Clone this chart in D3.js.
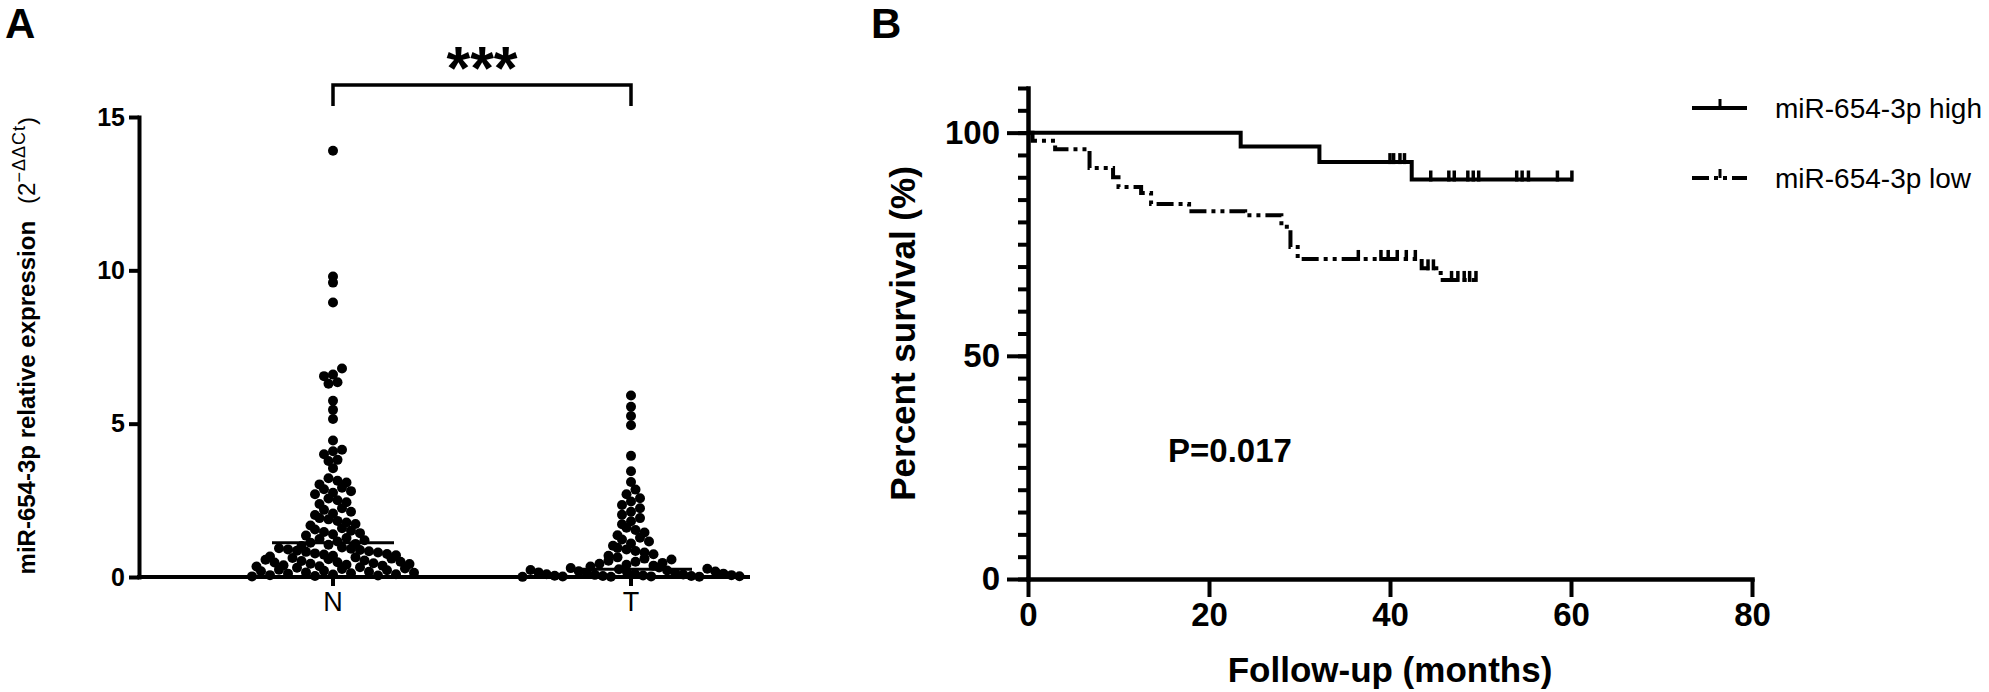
<!DOCTYPE html>
<html><head><meta charset="utf-8">
<script src="https://cdn.jsdelivr.net/npm/d3@7"></script>
<style>
html,body{margin:0;padding:0;background:#fff;}
svg{display:block;font-family:"Liberation Sans",Arial,Helvetica,sans-serif;}
</style></head><body>
<svg id="chart" width="1989" height="692"></svg>
<script>
// ---------- Panel A data ----------
const groups = ["N", "T"];
const valuesN = [
  0.02, 0.03, 0.05, 0.06, 0.08, 0.09, 0.11, 0.12, 0.14, 0.15, 0.17, 0.19, 0.2, 0.22, 0.24, 0.26, 0.28, 0.3, 0.32,
  0.34, 0.35, 0.37, 0.38, 0.4, 0.42, 0.43, 0.45, 0.47, 0.48, 0.5, 0.52, 0.54, 0.56, 0.58, 0.6, 0.62, 0.64,
  0.67, 0.69, 0.71, 0.73, 0.75, 0.77, 0.8, 0.82, 0.84, 0.86, 0.88, 0.9, 0.92, 0.94, 0.96,
  1.01, 1.05, 1.08, 1.12, 1.16, 1.2, 1.24, 1.27,
  1.35, 1.39, 1.43, 1.47, 1.51, 1.55, 1.59,
  1.68, 1.73, 1.78, 1.83, 1.88, 1.92,
  2.02, 2.07, 2.13, 2.19, 2.24,
  2.38, 2.44, 2.5, 2.56,
  2.7, 2.75, 2.8, 2.86, 2.91,
  3.02, 3.08, 3.14, 3.22, 3.55, 3.78, 3.82, 4.0, 4.1, 4.15, 4.45, 5.15, 5.45, 5.75,
  6.3, 6.35, 6.55, 6.6, 6.8, 8.95, 9.6, 9.8, 13.9];
const valuesT = [
  0.005, 0.01, 0.012, 0.015, 0.02, 0.025, 0.03, 0.035, 0.04, 0.05, 0.06, 0.07, 0.08, 0.09, 0.1, 0.11, 0.12, 0.13, 0.15, 0.16, 0.18, 0.19, 0.21, 0.23, 0.25, 0.27, 0.29, 0.31,
  0.34, 0.37, 0.4, 0.43, 0.46, 0.5, 0.53, 0.57, 0.6, 0.64,
  0.69, 0.74, 0.8, 0.85, 0.9, 0.95,
  1.02, 1.09, 1.16, 1.22, 1.28,
  1.36, 1.45, 1.53, 1.61,
  1.72, 1.82, 1.92,
  2.03, 2.13, 2.24,
  2.35, 2.46, 2.57,
  2.7, 2.85,
  3.1, 3.45, 3.95, 4.95, 5.25, 5.55, 5.92];
const mediansA = [1.12, 0.25];
const yTicksA = [0, 5, 10, 15];
const sigLabel = "***";

// ---------- Panel B data ----------
const seriesNames = ["miR-654-3p high", "miR-654-3p low"];
const survMajorTicks = [0, 50, 100];
const survMinorTicks = d3.range(0, 111, 5);
const monthTicks = [0, 20, 40, 60, 80];
const highTimes = [0, 23.5, 32.2, 42.4];
const highSurv = [100, 96.9, 93.4, 89.5];
const highEnd = 60.2;
const highCensor = [40.0, 40.4, 41.1, 41.6, 44.5, 46.5, 47.1, 48.6, 49.2, 49.8, 54.0, 54.6, 55.3, 58.5, 60.1];
const lowTimes = [0, 0.5, 3.0, 6.8, 9.4, 10.0, 12.5, 13.6, 17.8, 24.0, 28.0, 29.0, 29.8, 43.5, 45.6];
const lowSurv = [100, 98.2, 96.3, 92.1, 90.0, 87.8, 86.5, 84.0, 82.4, 81.5, 78.9, 74.4, 71.7, 69.6, 67.0];
const lowEnd = 49.5;
const lowCensor = [36.5, 39.0, 39.8, 40.8, 41.8, 42.8, 44.2, 44.8, 46.8, 47.5, 48.2, 48.8, 49.5];
const pText = "P=0.017";

const svg = d3.select("#chart");
const AX = 4;
const FF = '"Liberation Sans", Arial, sans-serif';

// ================= Panel A =================
const gA = svg.append("g");
const xA = d3.scalePoint().domain(groups).range([333, 631]);
const yA = d3.scaleLinear().domain([0, 15]).range([577, 117]);
const axisAx = 139, axisAend = 748;

gA.append("text").attr("x", 5).attr("y", 38).attr("font-size", 42).attr("font-weight", "bold").text("A");

const gyA = gA.append("g").attr("transform", `translate(${axisAx},0)`)
  .call(d3.axisLeft(yA).tickValues(yTicksA).tickSize(10).tickPadding(4).tickSizeOuter(0));
gyA.select(".domain").attr("stroke", "#000").attr("stroke-width", AX).attr("stroke-linecap", "square");
gyA.selectAll(".tick line").attr("stroke", "#000").attr("stroke-width", AX);
gyA.selectAll(".tick text").attr("font-size", 25).attr("font-weight", "bold").attr("fill", "#000").attr("font-family", FF);

gA.append("line").attr("x1", axisAx).attr("x2", axisAend).attr("y1", yA(0)).attr("y2", yA(0))
  .attr("stroke", "#000").attr("stroke-width", AX).attr("stroke-linecap", "square");
groups.forEach(g => {
  gA.append("line").attr("x1", xA(g)).attr("x2", xA(g)).attr("y1", yA(0)).attr("y2", yA(0) + 9)
    .attr("stroke", "#000").attr("stroke-width", AX);
  gA.append("text").attr("x", xA(g)).attr("y", 611).attr("text-anchor", "middle")
    .attr("font-size", 27).text(g);
});

// y label
const yl = gA.append("text").attr("transform", "translate(35,117) rotate(-90)").attr("text-anchor", "end");
yl.append("tspan").attr("font-size", 24).attr("font-weight", "bold").text("miR-654-3p relative expression");
yl.append("tspan").attr("font-size", 24).attr("dx", 17).text("(2");
yl.append("tspan").attr("font-size", 18).attr("dy", -10).attr("letter-spacing", 1).text("\u2212\u0394\u0394Ct");
yl.append("tspan").attr("font-size", 24).attr("dy", 10).text(")");

// column-scatter layout: points binned by height, spread sideways on a fixed grid
function gcd(a, b) { return b ? gcd(b, a % b) : a; }
function columnScatter(values, yScale, binH, spacing, maxW) {
  const y0 = yScale(0);
  const pts = values.map(v => ({ v, y: yScale(v) }));
  const bins = d3.group(pts, p => Math.floor((y0 - p.y) / binH));
  for (const [, arr] of bins) {
    arr.sort((a, b) => a.v - b.v);
    const n = arr.length;
    const s = Math.min(spacing, maxW / n);
    let st = Math.max(1, Math.round(n * 0.38));
    while (gcd(st, n) !== 1) st++;
    arr.forEach((p, i) => {
      const slot = n > 2 ? (i * st) % n : i;
      p.x = (slot - (n - 1) / 2) * s;
    });
  }
  return pts;
}
const R = 5;
[valuesN, valuesT].forEach((vals, i) => {
  const pts = columnScatter(vals, yA, 10, 9, i ? 225 : 240);
  gA.append("g").selectAll("circle").data(pts).join("circle")
    .attr("cx", d => xA(groups[i]) + d.x).attr("cy", d => d.y).attr("r", R).attr("fill", "#000");
  gA.append("line").attr("x1", xA(groups[i]) - 61).attr("x2", xA(groups[i]) + 61)
    .attr("y1", yA(mediansA[i])).attr("y2", yA(mediansA[i])).attr("stroke", "#000").attr("stroke-width", 3);
});

// significance bracket
gA.append("path").attr("d", `M${xA("N")},106V85H${xA("T")}V106`).attr("fill", "none")
  .attr("stroke", "#000").attr("stroke-width", 3.5);
gA.append("text").attr("x", (xA("N") + xA("T")) / 2).attr("y", 89).attr("text-anchor", "middle")
  .attr("font-size", 61).attr("font-weight", "bold").text(sigLabel);

// ================= Panel B =================
const gB = svg.append("g");
const xB = d3.scaleLinear().domain([0, 80]).range([1028, 1752]);
const yB = d3.scaleLinear().domain([0, 110]).range([579, 88]);

gB.append("text").attr("x", 871).attr("y", 38).attr("font-size", 42).attr("font-weight", "bold").text("B");

const gyMinor = gB.append("g").attr("transform", `translate(${xB(0)},0)`)
  .call(d3.axisLeft(yB).tickValues(survMinorTicks).tickSize(10).tickFormat("").tickSizeOuter(0));
gyMinor.select(".domain").attr("stroke", "#000").attr("stroke-width", AX + 0.5).attr("stroke-linecap", "square");
gyMinor.selectAll(".tick line").attr("stroke", "#000").attr("stroke-width", AX);
const gyMajor = gB.append("g").attr("transform", `translate(${xB(0)},0)`)
  .call(d3.axisLeft(yB).tickValues(survMajorTicks).tickSize(21).tickPadding(7).tickSizeOuter(0));
gyMajor.select(".domain").remove();
gyMajor.selectAll(".tick line").attr("stroke", "#000").attr("stroke-width", AX);
gyMajor.selectAll(".tick text").attr("font-size", 33).attr("font-weight", "bold").attr("fill", "#000").attr("font-family", FF);

const gx = gB.append("g").attr("transform", `translate(0,${yB(0)})`)
  .call(d3.axisBottom(xB).tickValues(monthTicks).tickSize(18).tickPadding(6).tickSizeOuter(0));
gx.select(".domain").attr("stroke", "#000").attr("stroke-width", AX + 0.5).attr("stroke-linecap", "square");
gx.selectAll(".tick line").attr("stroke", "#000").attr("stroke-width", AX);
gx.selectAll(".tick text").attr("font-size", 33).attr("font-weight", "bold").attr("fill", "#000").attr("font-family", FF);

gB.append("text").attr("x", (xB(0) + xB(80)) / 2).attr("y", 682).attr("text-anchor", "middle")
  .attr("font-size", 35).attr("font-weight", "bold").text("Follow-up (months)");
gB.append("text").attr("transform", `translate(915,${(yB(0) + yB(110)) / 2}) rotate(-90)`).attr("text-anchor", "middle")
  .attr("font-size", 35).attr("font-weight", "bold").text("Percent survival (%)");
gB.append("text").attr("x", 1230).attr("y", 462).attr("text-anchor", "middle")
  .attr("font-size", 33).attr("font-weight", "bold").text(pText);

const stepLine = d3.line().x(d => xB(d[0])).y(d => yB(d[1])).curve(d3.curveStepAfter);
const DASH = "17,5,4,5,4,5";
function drawSeries(times, surv, end, censor, dash) {
  const pts = times.map((t, i) => [t, surv[i]]);
  pts.push([end, surv[surv.length - 1]]);
  gB.append("path").attr("d", stepLine(pts)).attr("fill", "none").attr("stroke", "#000")
    .attr("stroke-width", AX).attr("stroke-dasharray", dash);
  const bis = d3.bisector(d => d).right;
  censor.forEach(c => {
    const s = surv[Math.max(0, bis(times, c) - 1)];
    gB.append("line").attr("x1", xB(c)).attr("x2", xB(c)).attr("y1", yB(s) + 2).attr("y2", yB(s) - 9)
      .attr("stroke", "#000").attr("stroke-width", 3.5);
  });
}
drawSeries(highTimes, highSurv, highEnd, highCensor, null);
drawSeries(lowTimes, lowSurv, lowEnd, lowCensor, DASH);

// legend
const legY = [108, 178];
seriesNames.forEach((name, i) => {
  gB.append("line").attr("x1", 1692).attr("x2", 1747).attr("y1", legY[i]).attr("y2", legY[i])
    .attr("stroke", "#000").attr("stroke-width", AX).attr("stroke-dasharray", i ? DASH : null);
  gB.append("line").attr("x1", 1720).attr("x2", 1720).attr("y1", legY[i]).attr("y2", legY[i] - 9)
    .attr("stroke", "#000").attr("stroke-width", 3);
  gB.append("text").attr("x", 1775).attr("y", legY[i]).attr("dy", "0.36em")
    .attr("font-size", 28).text(name);
});
</script>
</body></html>
